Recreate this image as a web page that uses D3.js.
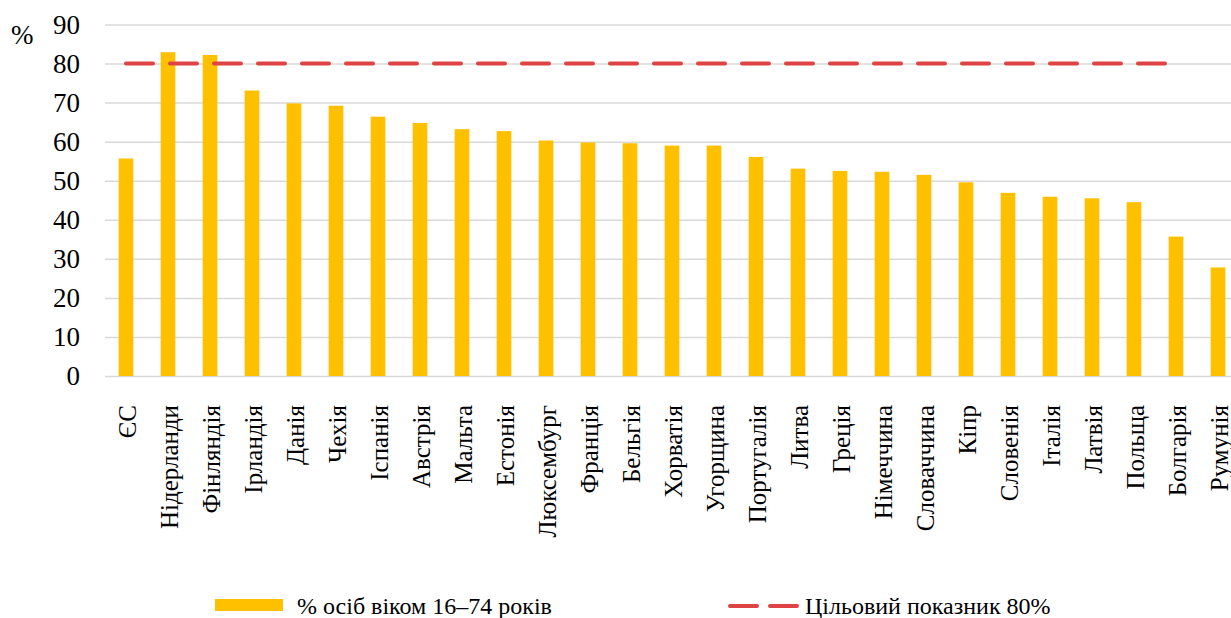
<!DOCTYPE html>
<html>
<head>
<meta charset="utf-8">
<script src="https://cdn.jsdelivr.net/npm/d3@7"></script>
<style>
body { margin: 0; background: #fff; }
text { font-family: "Liberation Serif", "Times New Roman", serif; fill: #000; }
</style>
</head>
<body>
<div id="chart"></div>
<script>
var w = 1231;
var h = 618;

var categories = ["ЄС", "Нідерланди", "Фінляндія", "Ірландія", "Данія", "Чехія", "Іспанія", "Австрія",
	"Мальта", "Естонія", "Люксембург", "Франція", "Бельгія", "Хорватія", "Угорщина", "Португалія",
	"Литва", "Греція", "Німеччина", "Словаччина", "Кіпр", "Словенія", "Італія", "Латвія", "Польща",
	"Болгарія", "Румунія"];
var shareValues = [55.7, 82.9, 82.2, 73.1, 69.8, 69.2, 66.4, 64.8, 63.2, 62.7, 60.3, 59.8, 59.6, 59.0,
	59.0, 56.1, 53.1, 52.5, 52.3, 51.5, 49.6, 46.9, 45.9, 45.5, 44.5, 35.7, 27.8];
var targetValues = [80, 80, 80, 80, 80, 80, 80, 80, 80, 80, 80, 80, 80, 80, 80, 80, 80, 80, 80, 80,
	80, 80, 80, 80, 80, 80];
var yTicks = [0, 10, 20, 30, 40, 50, 60, 70, 80, 90];
var legendLabels = ["% осіб віком 16–74 років", "Цільовий показник 80%"];

var plotLeft = 105;
var plotRight = 1239;
var plotTop = 24.5;
var plotBottom = 376;

var svg = d3.select("#chart")
	.append("svg")
	.attr("width", w)
	.attr("height", h);

var xScale = d3.scaleBand()
	.domain(categories)
	.range([plotLeft, plotRight])
	.paddingInner(0.65)
	.paddingOuter(0.325);

var yScale = d3.scaleLinear()
	.domain([0, 90])
	.range([plotBottom, plotTop]);

// gridlines
var grid = svg.append("g")
	.attr("transform", "translate(" + plotLeft + ",0)")
	.call(d3.axisLeft(yScale).tickValues(yTicks).tickSize(-(w - plotLeft)).tickFormat(""));
grid.select(".domain").remove();
grid.selectAll("line").attr("stroke", "#d9d9d9").attr("stroke-width", 1.5);

// y labels
var yAxis = svg.append("g")
	.attr("transform", "translate(80,0)")
	.call(d3.axisLeft(yScale).tickValues(yTicks).tickSize(0).tickPadding(0));
yAxis.select(".domain").remove();
yAxis.selectAll("text")
	.style("font-size", "27px")
	.style("font-family", "Liberation Serif, serif")
	.attr("fill", "#000");

svg.append("text")
	.attr("x", 11)
	.attr("y", 44)
	.style("font-size", "27px")
	.text("%");

// bars
svg.selectAll("rect.bar")
	.data(shareValues)
	.enter()
	.append("rect")
	.attr("class", "bar")
	.attr("x", function(d, i) { return xScale(categories[i]); })
	.attr("y", function(d) { return yScale(d); })
	.attr("width", xScale.bandwidth())
	.attr("height", function(d) { return plotBottom - yScale(d); })
	.attr("fill", "#ffc000");

// target line
var line = d3.line()
	.x(function(d, i) { return xScale(categories[i]) + xScale.bandwidth() / 2; })
	.y(function(d) { return yScale(d); });

svg.append("path")
	.datum(targetValues)
	.attr("d", line)
	.attr("fill", "none")
	.attr("stroke", "#e04343")
	.attr("stroke-width", 4)
	.attr("stroke-linecap", "round")
	.attr("stroke-dasharray", "27,17");

// category labels
svg.selectAll("text.cat")
	.data(categories)
	.enter()
	.append("text")
	.attr("class", "cat")
	.attr("transform", function(d) {
		return "translate(" + (xScale(d) + xScale.bandwidth() / 2) + ",405) rotate(-90)";
	})
	.attr("dy", "0.38em")
	.style("text-anchor", "end")
	.style("font-size", "25px")
	.text(function(d) { return d; });

// legend
svg.append("rect")
	.attr("x", 215)
	.attr("y", 599)
	.attr("width", 68)
	.attr("height", 12)
	.attr("fill", "#ffc000");

svg.append("text")
	.attr("x", 297)
	.attr("y", 614)
	.style("font-size", "24px")
	.text(legendLabels[0]);

svg.append("line")
	.attr("x1", 730)
	.attr("x2", 797)
	.attr("y1", 606)
	.attr("y2", 606)
	.attr("stroke", "#e04343")
	.attr("stroke-width", 4)
	.attr("stroke-linecap", "round")
	.attr("stroke-dasharray", "27,13");

svg.append("text")
	.attr("x", 805)
	.attr("y", 614)
	.style("font-size", "24px")
	.text(legendLabels[1]);
</script>
</body>
</html>
